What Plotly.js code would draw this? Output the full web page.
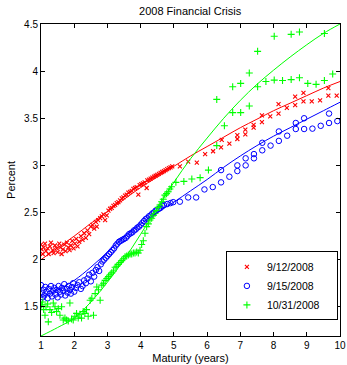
<!DOCTYPE html>
<html>
<head>
<meta charset="utf-8">
<script src="https://cdn.plot.ly/plotly-3.0.1.min.js"></script>
<style>html,body{margin:0;padding:0;background:#fff;}#chart{width:347px;height:365px;}</style>
</head>
<body>
<div id="chart"></div>
<script>
// ---- data ----
const seriesNames = ["9/12/2008", "9/15/2008", "10/31/2008"];

const redX = [1.00,1.02,1.05,1.08,1.12,1.15,1.20,1.23,1.27,1.30,1.35,1.38,1.42,1.47,1.50,1.55,1.58,1.62,1.66,1.70,1.74,1.78,1.82,1.86,1.90,1.94,1.98,2.02,2.06,2.10,2.15,2.20,2.25,2.30,2.35,2.40,2.45,2.50,2.55,2.60,2.65,2.68,2.72,2.78,2.83,2.88,2.93,2.98,3.03,3.08,3.13,3.18,3.23,3.28,3.33,3.38,3.43,3.48,3.53,3.58,3.63,3.68,3.73,3.78,3.83,3.88,3.93,3.97,4.02,4.07,4.12,4.18,4.20,4.25,4.30,4.35,4.40,4.45,4.50,4.55,4.60,4.65,4.70,4.75,4.80,4.85,4.90,4.95,5.18,5.43,5.69,5.94,6.18,6.42,6.44,6.67,6.91,6.91,7.15,7.15,7.40,7.40,7.65,7.65,7.90,8.15,8.15,8.40,8.65,8.65,8.90,8.90,9.15,9.40,9.65,9.65,9.90];
const redY = [2.16,2.11,2.06,2.13,2.17,2.09,2.12,2.06,2.14,2.18,2.10,2.07,2.15,2.12,2.08,2.17,2.13,2.06,2.11,2.16,2.09,2.18,2.13,2.10,2.15,2.20,2.12,2.17,2.22,2.14,2.19,2.25,2.21,2.28,2.23,2.31,2.27,2.35,2.37,2.33,2.40,2.35,2.42,2.44,2.46,2.48,2.42,2.47,2.52,2.54,2.55,2.57,2.58,2.60,2.61,2.63,2.65,2.66,2.68,2.69,2.71,2.72,2.73,2.75,2.76,2.77,2.69,2.79,2.80,2.81,2.82,2.76,2.84,2.85,2.86,2.87,2.88,2.89,2.90,2.91,2.92,2.93,2.94,2.95,2.96,2.97,2.98,2.99,2.99,3.04,3.03,3.12,3.15,3.19,3.27,3.23,3.28,3.32,3.33,3.38,3.40,3.43,3.46,3.53,3.52,3.55,3.65,3.61,3.64,3.73,3.68,3.77,3.68,3.69,3.74,3.82,3.74];

const blueX = [1.00,1.02,1.05,1.08,1.10,1.13,1.17,1.20,1.23,1.27,1.30,1.33,1.37,1.40,1.43,1.47,1.50,1.53,1.57,1.60,1.63,1.67,1.70,1.73,1.77,1.80,1.83,1.87,1.90,1.93,1.97,2.00,2.05,2.10,2.15,2.20,2.25,2.30,2.35,2.40,2.45,2.50,2.55,2.60,2.65,2.70,2.75,2.80,2.85,2.90,2.95,3.00,3.05,3.10,3.15,3.20,3.25,3.30,3.35,3.40,3.45,3.50,3.55,3.60,3.65,3.70,3.75,3.80,3.85,3.90,3.95,4.00,4.05,4.10,4.15,4.20,4.25,4.30,4.35,4.40,4.45,4.50,4.55,4.60,4.65,4.70,4.80,4.90,4.98,5.18,5.43,5.67,5.92,6.17,6.42,6.42,6.67,6.91,6.91,7.16,7.16,7.41,7.41,7.66,7.66,7.91,8.16,8.16,8.41,8.67,8.67,8.92,8.92,9.17,9.42,9.67,9.67,9.92];
const blueY = [1.73,1.65,1.60,1.68,1.62,1.71,1.66,1.59,1.69,1.64,1.72,1.61,1.67,1.70,1.63,1.68,1.60,1.72,1.66,1.63,1.70,1.67,1.74,1.62,1.69,1.65,1.72,1.68,1.64,1.71,1.75,1.66,1.70,1.73,1.76,1.69,1.72,1.78,1.75,1.80,1.84,1.77,1.86,1.82,1.89,1.92,1.88,1.95,1.98,2.00,2.02,2.04,2.06,2.08,2.10,2.12,2.15,2.17,2.19,2.20,2.21,2.22,2.23,2.25,2.27,2.28,2.29,2.31,2.32,2.34,2.35,2.37,2.39,2.41,2.43,2.44,2.46,2.47,2.49,2.50,2.52,2.53,2.54,2.55,2.57,2.58,2.59,2.60,2.61,2.615,2.66,2.66,2.745,2.77,2.82,2.95,2.88,2.94,3.00,3.00,3.075,3.075,3.12,3.16,3.24,3.21,3.26,3.36,3.315,3.386,3.45,3.386,3.50,3.39,3.42,3.45,3.55,3.47];

const greenX = [1.02,1.05,1.08,1.12,1.15,1.20,1.22,1.27,1.32,1.37,1.42,1.47,1.52,1.57,1.62,1.67,1.72,1.77,1.82,1.87,1.92,1.97,2.02,2.07,2.12,2.17,2.22,2.27,2.32,2.37,2.42,2.48,2.53,2.58,2.63,2.68,2.73,2.78,2.83,2.88,2.93,2.98,3.03,3.08,3.13,3.18,3.23,3.28,3.33,3.38,3.43,3.48,3.53,3.58,3.63,3.68,3.73,3.78,3.83,3.88,3.93,3.98,4.03,4.08,4.13,4.18,4.23,4.28,4.33,4.38,4.43,4.48,4.53,4.58,4.63,4.68,4.73,4.78,4.83,4.88,4.93,5.06,5.30,5.54,5.79,6.04,6.29,6.29,6.52,6.77,6.77,7.01,7.01,7.27,7.27,7.52,7.52,7.77,8.02,8.02,8.27,8.53,8.53,8.78,8.78,9.03,9.28,9.53,9.53,9.78];
const greenY = [1.52,1.55,1.47,1.41,1.50,1.53,1.34,1.47,1.44,1.54,1.50,1.45,1.48,1.41,1.50,1.36,1.38,1.36,1.35,1.54,1.37,1.36,1.40,1.43,1.38,1.42,1.38,1.45,1.43,1.47,1.40,1.57,1.59,1.41,1.64,1.71,1.68,1.57,1.73,1.75,1.78,1.80,1.82,1.84,1.86,1.88,1.92,1.93,1.95,1.97,1.99,2.01,2.03,2.04,2.05,2.06,2.06,2.07,2.07,2.08,2.07,2.10,2.16,2.20,2.28,2.35,2.38,2.42,2.44,2.47,2.49,2.52,2.555,2.58,2.615,2.64,2.685,2.70,2.72,2.75,2.774,2.82,2.83,2.855,2.87,2.95,3.21,3.70,3.42,3.56,3.835,3.56,3.87,3.63,3.98,3.835,4.21,3.89,3.905,4.37,3.90,3.91,4.39,3.93,4.415,3.87,3.86,3.90,4.40,3.97];

// fitted curves, read at half-year maturities
const fitX = [1,1.5,2,2.5,3,3.5,4,4.5,5,5.5,6,6.5,7,7.5,8,8.5,9,9.5,10];
const fitRed   = [2.00,2.125,2.25,2.385,2.51,2.64,2.765,2.88,2.99,3.10,3.20,3.30,3.40,3.49,3.58,3.66,3.74,3.82,3.89];
const fitBlue  = [1.60,1.68,1.78,1.92,2.08,2.24,2.38,2.50,2.61,2.73,2.85,2.98,3.10,3.21,3.31,3.40,3.49,3.58,3.67];
const fitGreen = [1.19,1.28,1.38,1.55,1.76,2.00,2.27,2.55,2.82,3.07,3.29,3.50,3.69,3.86,4.01,4.15,4.28,4.40,4.50];

const xTicks = [1,2,3,4,5,6,7,8,9,10];
const yTicks = [1.5,2,2.5,3,3.5,4,4.5];

const colors = ["#ff0000", "#0000ff", "#00ff00"];
const pad = "\u00a0\u00a0\u00a0\u00a0";

const traces = [
  {x: redX, y: redY, name: seriesNames[0] + pad, mode: "markers", type: "scatter",
   marker: {symbol: "x-thin-open", size: 4, color: colors[0], line: {color: colors[0], width: 1.1}}},
  {x: blueX, y: blueY, name: seriesNames[1] + pad, mode: "markers", type: "scatter",
   marker: {symbol: "circle-open", size: 5.5, color: colors[1], line: {color: colors[1], width: 1}}},
  {x: greenX, y: greenY, name: seriesNames[2] + pad, mode: "markers", type: "scatter",
   marker: {symbol: "cross-thin-open", size: 5, color: colors[2], line: {color: colors[2], width: 1.1}}},
  {x: fitX, y: fitRed, mode: "lines", type: "scatter", showlegend: false, hoverinfo: "skip",
   line: {color: colors[0], width: 1, shape: "spline"}},
  {x: fitX, y: fitBlue, mode: "lines", type: "scatter", showlegend: false, hoverinfo: "skip",
   line: {color: colors[1], width: 1, shape: "spline"}},
  {x: fitX, y: fitGreen, mode: "lines", type: "scatter", showlegend: false, hoverinfo: "skip",
   line: {color: colors[2], width: 1, shape: "spline"}}
];

const font = {family: "Liberation Sans, Arial, Helvetica, sans-serif", color: "#000"};

const layout = {
  width: 347, height: 365,
  margin: {l: 41, r: 7, t: 24, b: 29, pad: 0},
  paper_bgcolor: "#fff", plot_bgcolor: "#fff",
  font: Object.assign({size: 10}, font),
  title: {text: "2008 Financial Crisis", font: Object.assign({size: 11}, font),
          x: 0.548, xref: "container", xanchor: "center", y: 0.97, yref: "container", yanchor: "middle"},
  showlegend: true,
  legend: {x: 0.993, y: 0.05, xanchor: "right", yanchor: "bottom",
           bordercolor: "#000", borderwidth: 1, bgcolor: "#fff",
           font: Object.assign({size: 10.5}, font), tracegroupgap: 0},
  xaxis: {range: [1, 10], tickvals: xTicks, ticktext: xTicks.map(String),
          ticks: "inside", ticklen: 4, tickcolor: "#000", showline: true, linecolor: "#000", linewidth: 1,
          mirror: "ticks", showgrid: false, zeroline: false, automargin: false,
          tickfont: Object.assign({size: 10}, font),
          title: {text: "Maturity (years)", font: Object.assign({size: 11}, font), standoff: 4}},
  yaxis: {range: [1.19, 4.5], tickvals: yTicks, ticktext: yTicks.map(String),
          ticks: "inside", ticklen: 4, tickcolor: "#000", showline: true, linecolor: "#000", linewidth: 1,
          mirror: "ticks", showgrid: false, zeroline: false, automargin: false,
          tickfont: Object.assign({size: 10}, font),
          title: {text: "Percent", font: Object.assign({size: 11}, font), standoff: 6}}
};

Plotly.newPlot("chart", traces, layout, {displayModeBar: false, staticPlot: true});
</script>
</body>
</html>
